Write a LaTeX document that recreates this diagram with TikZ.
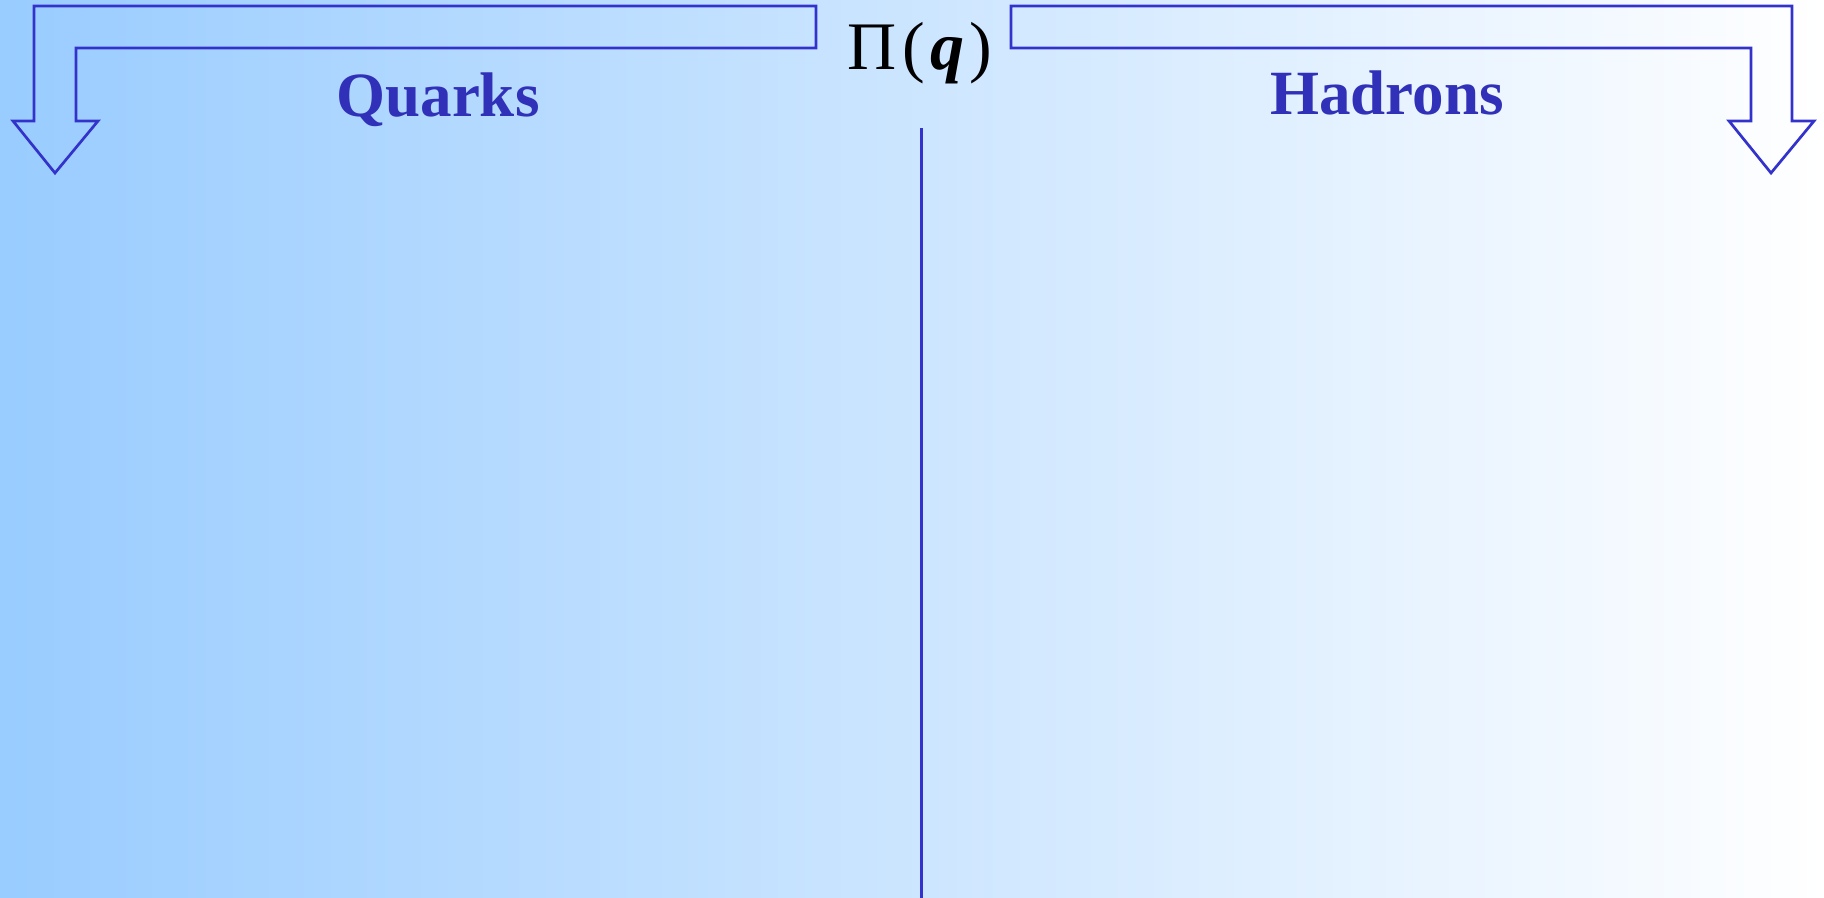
\documentclass[tikz,border=0pt]{standalone}
\usepackage{fontspec}
\setmainfont{Liberation Serif}
\begin{document}
\begin{tikzpicture}[x=0.5pt,y=-0.5pt]
\definecolor{bgleft}{RGB}{153,204,255}
\definecolor{linecol}{RGB}{51,51,204}
\definecolor{textcol}{RGB}{48,48,184}
\tikzset{
  bendarrow/.style={draw=linecol, line width=1.35pt, line join=miter},
  title/.style={text=textcol, font=\fontsize{31.5}{36}\selectfont\bfseries, anchor=base, inner sep=0pt},
  formula/.style={text=black, font=\fontsize{34}{38}\selectfont, anchor=base, inner sep=0pt}
}
\shade[left color=bgleft, right color=white] (0,0) rectangle (1824,898);
\useasboundingbox (0,0) rectangle (1824,898);
% left bent arrow
\draw[bendarrow] (816,6) -- (34,6) -- (34,121) -- (13,121) -- (55,173) -- (98,121) -- (76,121) -- (76,48) -- (816,48) -- cycle;
% right bent arrow
\draw[bendarrow] (1011,6) -- (1792,6) -- (1792,121) -- (1814,121) -- (1771,173) -- (1729,121) -- (1751,121) -- (1751,48) -- (1011,48) -- cycle;
% divider
\coordinate (top) at (921,128);
\coordinate (bot) at (921,898);
\draw[linecol, line width=1.5pt] (top) -- (bot);
\node[formula] (pi) at (920,70) {Π\kern3pt(\kern2.5pt\textbf{\textit{q}}\kern2.5pt)};
\node[title] (quarks) at (438,117) {Quarks};
\node[title] (hadrons) at (1387,115) {Hadrons};
\end{tikzpicture}
\end{document}
